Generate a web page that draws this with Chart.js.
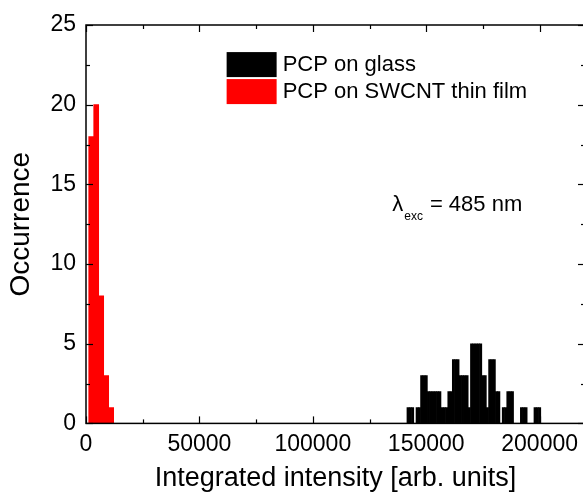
<!DOCTYPE html>
<html>
<head>
<meta charset="utf-8">
<script src="https://cdn.jsdelivr.net/npm/chart.js@4.4.1/dist/chart.umd.min.js"></script>
<style>
  html, body { margin: 0; padding: 0; overflow: hidden; background: #fff; }
  #wrap { width: 590px; height: 492px; }
</style>
</head>
<body>
<div id="wrap"><canvas id="myChart" width="590" height="492"></canvas></div>
<script>
const FONT = 'Arial, "Liberation Sans", Helvetica, sans-serif';

// PCP on glass, 1000-wide bins, first bin centred at 142000
const glassStart = 142000;
const glassBinWidth = 1000;
const glassCounts = [
  1, 1, 1, 0, 1, 1, 3, 3, 3, 2,
  2, 2, 2, 2, 2, 1, 1, 1, 2, 2,
  4, 4, 4, 3, 3, 3, 3, 1, 5, 5,
  5, 5, 5, 3, 3, 1, 4, 4, 4, 2,
  2, 0, 1, 1, 2, 2, 2, 0, 0, 0,
  1, 1, 1, 0, 0, 0, 1, 1, 1,
];

// PCP on SWCNT thin film
const swcntCenters = [2300, 4500, 6700, 8900, 11100];
const swcntCounts = [18, 20, 8, 3, 1];

const xMajorTicks = [0, 50000, 100000, 150000, 200000];
const xMinorTicks = [25000, 75000, 125000, 175000];
const yMajorTicks = [0, 5, 10, 15, 20, 25];
const yMinorTicks = [2.5, 7.5, 12.5, 17.5, 22.5];

const legendLabels = ['PCP on glass', 'PCP on SWCNT thin film'];
const legendColors = ['#000000', '#ff0000'];

const glassData = glassCounts.map((c, i) => ({ x: glassStart + i * glassBinWidth, y: c }));
const swcntData = swcntCenters.map((x, i) => ({ x, y: swcntCounts[i] }));

// frame, inward ticks on all four sides, legend and the excitation note
const decorations = {
  id: 'decorations',
  afterDatasetsDraw(chart) {
    const { ctx, chartArea: a, scales: { x, y } } = chart;
    ctx.save();
    ctx.strokeStyle = '#000';
    ctx.lineWidth = 1.5;
    ctx.strokeRect(a.left, a.top, a.right - a.left, a.bottom - a.top);

    const seg = (x1, y1, x2, y2) => {
      ctx.beginPath();
      ctx.moveTo(x1, y1);
      ctx.lineTo(x2, y2);
      ctx.stroke();
    };
    const xMarks = (vals, len) => vals.forEach((v) => {
      const px = Math.round(x.getPixelForValue(v)) + 0.5;
      seg(px, a.bottom, px, a.bottom - len);
      seg(px, a.top, px, a.top + len);
    });
    const yMarks = (vals, len) => vals.forEach((v) => {
      const py = Math.round(y.getPixelForValue(v)) + 0.5;
      seg(a.left, py, a.left + len, py);
      seg(a.right, py, a.right - len, py);
    });
    ctx.lineWidth = 1.2;
    xMarks(xMajorTicks, 7);
    xMarks(xMinorTicks, 4);
    yMarks(yMajorTicks, 7);
    yMarks(yMinorTicks, 4);

    // legend
    const lx = x.getPixelForValue(62000);
    let ly = y.getPixelForValue(23.3);
    ctx.font = '22px ' + FONT;
    ctx.textBaseline = 'middle';
    ctx.textAlign = 'left';
    legendLabels.forEach((label, i) => {
      ctx.fillStyle = legendColors[i];
      ctx.fillRect(lx, ly, 50, 25);
      ctx.fillStyle = '#000';
      ctx.fillText(label, lx + 56, ly + 13);
      ly += 27;
    });

    // lambda_exc = 485 nm
    const nx = x.getPixelForValue(135000);
    const ny = y.getPixelForValue(13.3);
    ctx.textBaseline = 'alphabetic';
    ctx.font = '22px ' + FONT;
    ctx.fillText('\u03bb', nx, ny);
    const lw = ctx.measureText('\u03bb').width;
    ctx.font = '12px ' + FONT;
    ctx.fillText('exc', nx + lw + 1, ny + 9);
    const sw = ctx.measureText('exc').width;
    ctx.font = '22px ' + FONT;
    ctx.fillText('= 485 nm', nx + lw + sw + 8, ny);
    ctx.restore();
  },
};

const myChartRef = document.getElementById('myChart').getContext('2d');
const histChart = new Chart(myChartRef, {
  type: 'bar',
  data: {
    datasets: [
      {
        label: legendLabels[0],
        data: glassData,
        backgroundColor: legendColors[0],
        borderWidth: 0,
        barPercentage: 1,
        categoryPercentage: 1,
        grouped: false,
        xAxisID: 'x',
      },
      {
        label: legendLabels[1],
        data: swcntData,
        backgroundColor: legendColors[1],
        borderWidth: 0,
        barPercentage: 1,
        categoryPercentage: 1,
        grouped: false,
        xAxisID: 'x2',
      },
    ],
  },
  options: {
    animation: false,
    responsive: false,
    events: [],
    layout: { padding: { top: 25, right: 5, left: 0, bottom: 0 } },
    plugins: {
      legend: { display: false },
      tooltip: { enabled: false },
    },
    scales: {
      x: {
        type: 'linear',
        min: 0,
        max: 220000,
        offset: false,
        grid: { display: false, drawTicks: false },
        border: { display: false },
        afterBuildTicks: (scale) => { scale.ticks = xMajorTicks.map((v) => ({ value: v })); },
        ticks: {
          maxRotation: 0,
          autoSkip: false,
          padding: 7,
          color: '#000',
          font: { family: FONT, size: 23 },
          callback: (v) => String(v),
        },
        title: {
          display: true,
          text: 'Integrated intensity [arb. units]',
          color: '#000',
          font: { family: FONT, size: 27, lineHeight: 1 },
          padding: { top: 0, bottom: 0 },
        },
      },
      x2: {
        type: 'linear',
        min: 0,
        max: 220000,
        offset: false,
        display: false,
      },
      y: {
        min: 0,
        max: 25,
        grid: { display: false, drawTicks: false },
        border: { display: false },
        afterBuildTicks: (scale) => { scale.ticks = yMajorTicks.map((v) => ({ value: v })); },
        ticks: {
          padding: 10,
          color: '#000',
          font: { family: FONT, size: 23 },
        },
        title: {
          display: true,
          text: 'Occurrence',
          color: '#000',
          font: { family: FONT, size: 28 },
        },
        afterFit: (scale) => { scale.width = 86; },
      },
    },
  },
  plugins: [decorations],
});
</script>
</body>
</html>
